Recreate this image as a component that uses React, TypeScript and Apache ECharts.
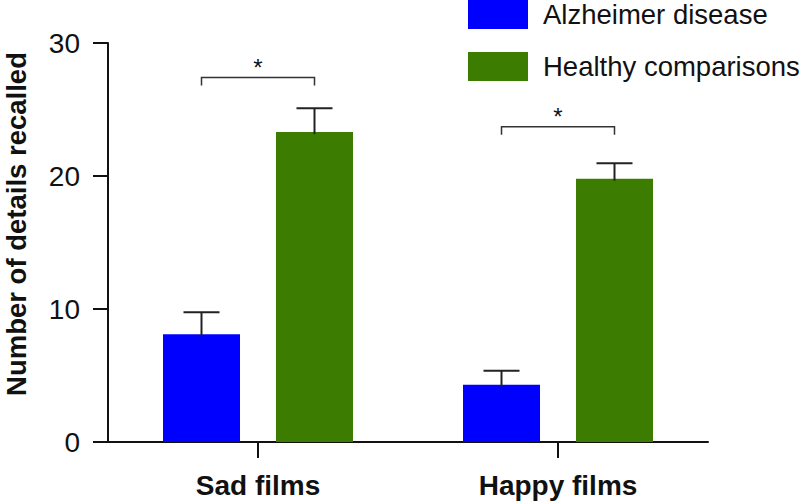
import React, { useEffect, useRef } from "react";
import * as echarts from "echarts";

const categories = ["Sad films", "Happy films"];
const seriesNames = ["Alzheimer disease", "Healthy comparisons"];
const adMeans = [8.1, 4.3];
const adErrors = [1.65, 1.05];
const hcMeans = [23.3, 19.8];
const hcErrors = [1.8, 1.15];
const bracketLevels = [27.4, 23.7];
const significanceMarks = ["*", "*"];
const yTicks = [0, 10, 20, 30];

const FONT = "'Liberation Sans', Arial, Helvetica, sans-serif";
const BAR_W = 77;
const BAR_GAP = 36;
const OFFSET = (BAR_W + BAR_GAP) / 2;

export default function App() {
  const ref = useRef<HTMLDivElement>(null);
  useEffect(() => {
    if (!ref.current) return;
    const chart = echarts.init(ref.current, null, { renderer: "svg" });

    const errSeries = (means: number[], errs: number[], sign: number) => ({
      type: "custom",
      silent: true,
      z: 5,
      data: means.map((m, i) => [i, m, errs[i]]),
      encode: { x: 0, y: 1 },
      renderItem: (params: any, api: any) => {
        const ci = api.value(0);
        const mean = api.value(1);
        const err = api.value(2);
        const base = api.coord([ci, mean]);
        const top = api.coord([ci, mean + err]);
        const x = base[0] + sign * OFFSET;
        return {
          type: "group",
          children: [
            { type: "line", shape: { x1: x, y1: base[1] + 2, x2: x, y2: top[1] }, style: { stroke: "#222", lineWidth: 2 } },
            { type: "line", shape: { x1: x - 18, y1: top[1], x2: x + 18, y2: top[1] }, style: { stroke: "#222", lineWidth: 2 } },
          ],
        };
      },
    });

    chart.setOption({
      animation: false,
      backgroundColor: "#ffffff",
      textStyle: { fontFamily: FONT },
      grid: { left: 108, right: 92, top: 43, bottom: 59, containLabel: false },
      legend: {
        data: seriesNames,
        orient: "vertical",
        left: 468,
        top: 0,
        padding: 0,
        itemWidth: 60,
        itemHeight: 29,
        itemGap: 23,
        icon: "rect",
        selectedMode: false,
        textStyle: { fontSize: 27.5, color: "#111", fontFamily: FONT, padding: [0, 0, 0, 10], lineHeight: 29 },
      },
      xAxis: {
        type: "category",
        data: categories,
        boundaryGap: true,
        axisLine: { show: true, lineStyle: { color: "#111", width: 2 } },
        axisTick: { show: true, alignWithLabel: true, length: 16, lineStyle: { color: "#111", width: 2 } },
        axisLabel: { fontSize: 28, fontWeight: "bold", color: "#111", margin: 29, fontFamily: FONT },
        splitLine: { show: false },
      },
      yAxis: {
        type: "value",
        min: yTicks[0],
        max: yTicks[yTicks.length - 1],
        interval: yTicks[1] - yTicks[0],
        axisLine: { show: true, lineStyle: { color: "#111", width: 2 } },
        axisTick: { show: true, length: 15, lineStyle: { color: "#111", width: 2 } },
        axisLabel: { fontSize: 28, color: "#111", margin: 28, fontFamily: FONT },
        splitLine: { show: false },
      },
      graphic: [
        {
          type: "text",
          x: 16,
          y: 224,
          rotation: Math.PI / 2,
          style: {
            text: "Number of details recalled",
            font: `bold 27.5px ${FONT}`,
            fill: "#111",
            align: "center",
            verticalAlign: "middle",
          },
        },
      ],
      series: [
        {
          name: seriesNames[0],
          type: "bar",
          data: adMeans,
          barWidth: BAR_W,
          barGap: `${(BAR_GAP / BAR_W) * 100}%`,
          itemStyle: { color: "#0000ff" },
        },
        {
          name: seriesNames[1],
          type: "bar",
          data: hcMeans,
          barWidth: BAR_W,
          itemStyle: { color: "#3c7c00" },
        },
        errSeries(adMeans, adErrors, -1),
        errSeries(hcMeans, hcErrors, 1),
        {
          type: "custom",
          silent: true,
          z: 6,
          data: bracketLevels.map((v, i) => [i, v]),
          encode: { x: 0, y: 1 },
          renderItem: (params: any, api: any) => {
            const ci = api.value(0);
            const lvl = api.value(1);
            const p = api.coord([ci, lvl]);
            const x1 = p[0] - OFFSET;
            const x2 = p[0] + OFFSET;
            const y = p[1];
            return {
              type: "group",
              children: [
                {
                  type: "polyline",
                  shape: { points: [[x1, y + 8], [x1, y], [x2, y], [x2, y + 8]] },
                  style: { stroke: "#333", lineWidth: 1.5, fill: "none" },
                },
                {
                  type: "text",
                  x: p[0],
                  y: y + 2,
                  style: {
                    text: significanceMarks[params.dataIndex],
                    font: `24px ${FONT}`,
                    fill: "#111",
                    align: "center",
                    verticalAlign: "bottom",
                  },
                },
              ],
            };
          },
        },
      ],
    });
    return () => chart.dispose();
  }, []);
  return <div ref={ref} style={{ width: 800, height: 501, position: "absolute", left: 0, top: 0 }} />;
}
